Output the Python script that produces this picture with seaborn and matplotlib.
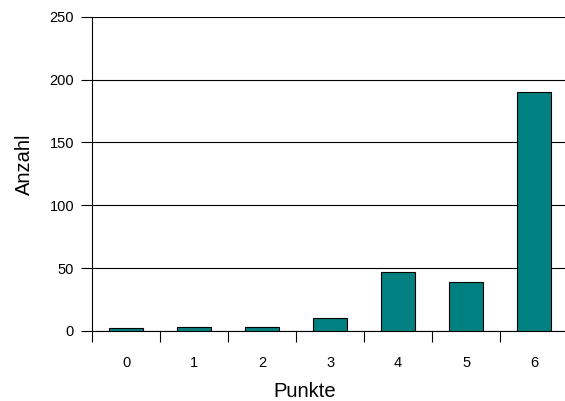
import numpy as np
import matplotlib
matplotlib.use("Agg")
import matplotlib.pyplot as plt
import seaborn as sns

punkte = ["0", "1", "2", "3", "4", "5", "6"]
anzahl = [2, 3, 3, 10, 47, 39, 190]
yticks = [0, 50, 100, 150, 200, 250]

sns.set_style("white")
plt.rcParams['font.family'] = ['Liberation Sans', 'DejaVu Sans']
plt.rcParams['text.color'] = 'black'
plt.rcParams['axes.labelcolor'] = 'black'
plt.rcParams['xtick.color'] = 'black'
plt.rcParams['ytick.color'] = 'black'

fig = plt.figure(figsize=(5.65, 4.01), dpi=100)
ax = fig.add_axes([0.163, 0.1746, 0.8425, 0.7836])

sns.barplot(x=punkte, y=anzahl, order=punkte, color='#008080', saturation=1,
            width=0.5, edgecolor='black', linewidth=0.8, ax=ax, zorder=3)

ax.set_ylim(0, 250)
ax.set_xlim(-0.5, len(punkte) - 0.5)
ax.set_yticks(yticks)
ax.set_yticklabels([str(v) for v in yticks], fontsize=10.5)
ax.yaxis.grid(True, color='black', linewidth=0.8, zorder=0)
ax.set_axisbelow(True)

# labels at category centres, tick marks between categories
ax.set_xticks(range(len(punkte)))
ax.set_xticklabels(punkte, fontsize=10.5)
ax.set_xticks(np.arange(-0.5, len(punkte), 1.0), minor=True)
ax.tick_params(axis='x', which='major', length=0, pad=18)
ax.tick_params(axis='x', which='minor', length=8, width=0.8, color='black', direction='out', bottom=True)
ax.tick_params(axis='y', which='major', length=8, width=0.8, color='black', direction='out', left=True, pad=5)

for s in ['top', 'right']:
    ax.spines[s].set_visible(False)
for s in ['left', 'bottom']:
    ax.spines[s].set_color('black')
    ax.spines[s].set_linewidth(0.8)

ax.set_xlabel('Punkte', fontsize=14.5)
ax.set_ylabel('Anzahl', fontsize=14.5)
ax.xaxis.set_label_coords(0.447, -0.163)
ax.yaxis.set_label_coords(-0.122, 0.53)

fig.savefig('out.png', dpi=100)
